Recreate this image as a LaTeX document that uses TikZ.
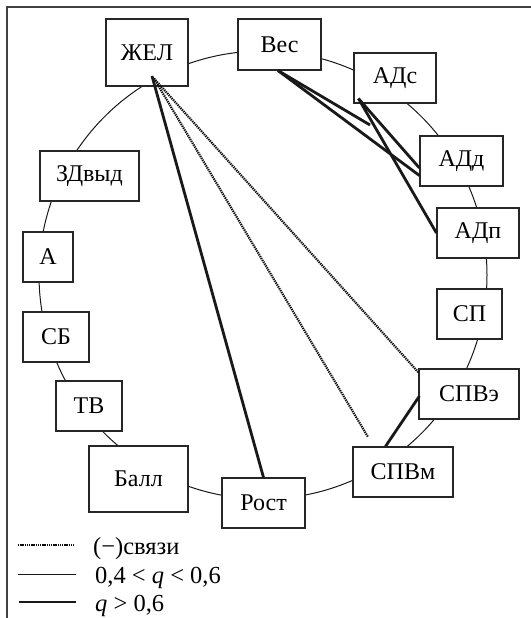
\documentclass[tikz,border=0pt]{standalone}
\usepackage{fontspec}
\setmainfont{Liberation Serif}
\usetikzlibrary{calc}
\begin{document}
\begin{tikzpicture}[x=1pt,y=-1pt,
  box/.style={draw=black!85, fill=white, line width=1.1pt, inner sep=0pt,
              minimum height=50, font=\fontsize{24}{28}\selectfont},
  strong/.style={line width=2.8pt, draw=black!90},
  weak/.style={line width=1pt, draw=black!90},
  negative/.style={line width=2.2pt, draw=black!95, dash pattern=on 1.3pt off 0.9pt},
  legendtext/.style={anchor=base west, inner sep=0pt, font=\fontsize{24.5}{28}\selectfont}]
\useasboundingbox (0,0) rectangle (530,618);

% frame
\draw[line width=1.6pt, black!75] (7,618) -- (7,7) -- (531,7);

% ring of links
\draw[weak] (263,275) circle[radius=224];

% variables
\node[box, minimum width=82, minimum height=67] (zhel) at (147,52.5) {ЖЕЛ};
\node[box, minimum width=83, minimum height=51] (ves)  at (279.5,44.5) {Вес};
\node[box, minimum width=82] (adc)   at (395,78)    {АДс};
\node[box, minimum width=83] (add)   at (461.5,161) {АДд};
\node[box, minimum width=82] (adp)   at (478,233)   {АДп};
\node[box, minimum width=65] (sp)    at (469.5,314) {СП};
\node[box, minimum width=100] (spve) at (469,394)   {СПВэ};
\node[box, minimum width=100] (spvm) at (403,472)   {СПВм};
\node[box, minimum width=83] (rost)  at (263.5,503) {Рост};
\node[box, minimum width=99, minimum height=66] (ball) at (138.5,479) {Балл};
\node[box, minimum width=66] (tv)    at (89,406)    {ТВ};
\node[box, minimum width=66] (sb)    at (56,337)    {СБ};
\node[box, minimum width=50] (a)     at (48,257)    {А};
\node[box, minimum width=99] (zdv)   at (89.5,176)  {ЗДвыд};

% free ends
\coordinate (dotend) at (368,437);
\coordinate (vesend) at (370,125);

% negative links
\draw[negative] ($(zhel)+(7,26)$) -- (dotend);
\draw[negative] ($(zhel)+(7,26)$) -- ($(spve.north west)+(0,4)$);

% strong links
\draw[strong] ($(zhel)+(5,23.5)$) -- (rost.north);
\draw[strong] ($(ves.south)+(-1.5,0)$) -- (vesend);
\draw[strong] ($(ves.south)+(-1.5,0)$) -- ($(add.south west)+(0,-11)$);
\draw[strong] ($(adc.south west)+(5,-5)$) -- ($(add.west)+(0,7)$);
\draw[strong] ($(adc.south west)+(5,-5)$) -- (adp.west);
\draw[strong] ($(spve.west)+(1,2)$) -- ($(spvm.north west)+(33,0)$);

% legend
\coordinate (l1a) at (18,545); \coordinate (l1b) at (74,545);
\coordinate (l2a) at (18,574); \coordinate (l2b) at (76,574);
\coordinate (l3a) at (19,602); \coordinate (l3b) at (76,602);
\draw[negative] (l1a) -- (l1b);
\draw[weak] (l2a) -- (l2b);
\draw[strong] (l3a) -- (l3b);
\node[legendtext] (t1) at (93,554) {(−)связи};
\node[legendtext] (t2) at (95,583) {0,4 < \textit{q} < 0,6};
\node[legendtext] (t3) at (95,611) {\textit{q} > 0,6};
\end{tikzpicture}
\end{document}
